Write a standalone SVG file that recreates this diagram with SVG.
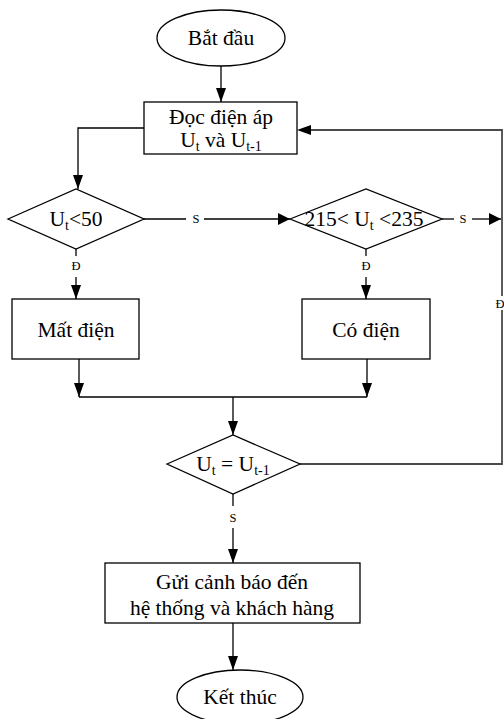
<svg xmlns="http://www.w3.org/2000/svg" width="504" height="719" viewBox="0 0 504 719">
<style>
.shape{fill:#fff;stroke:#000;stroke-width:1.3}
.ln{fill:none;stroke:#000;stroke-width:1.3}
.lg{fill:none;stroke:#4a4a4a;stroke-width:1.8}
.t{font-family:"Liberation Serif","Times New Roman",serif;font-size:21.5px;fill:#000;text-anchor:middle}
.s{font-family:"Liberation Serif","Times New Roman",serif;font-size:12.5px;fill:#000;text-anchor:middle}
.sub{font-size:14px}
</style>
<defs>
<marker id="ah" markerUnits="userSpaceOnUse" markerWidth="12" markerHeight="16" viewBox="0 0 12 16" refX="12" refY="8" orient="auto">
<path d="M0,2 L12,8 L0,14 Z" fill="#000"/>
</marker>
<marker id="av" markerUnits="userSpaceOnUse" markerWidth="14" markerHeight="12" viewBox="0 0 14 12" refX="14" refY="6" orient="auto">
<path d="M0,1 L14,6 L0,11 Z" fill="#000"/>
</marker>
</defs>
<g id="connectors">
<line class="ln" x1="221" y1="66" x2="221" y2="102" marker-end="url(#av)"/>
<polyline class="ln" points="144,128 78,128 78,189" marker-end="url(#av)"/>
<line class="ln" x1="144" y1="219" x2="186" y2="219"/>
<line class="ln" x1="204" y1="219" x2="290" y2="219" marker-end="url(#ah)"/>
<text class="s" x="196" y="223">S</text>
<line class="ln" x1="442" y1="219" x2="454" y2="219"/>
<line class="ln" x1="472" y1="219" x2="501" y2="219" marker-end="url(#ah)"/>
<text class="s" x="463" y="223">S</text>
<line class="ln" x1="76" y1="249" x2="76" y2="256"/>
<text class="s" x="76" y="270">Đ</text>
<line class="ln" x1="76" y1="277" x2="76" y2="299" marker-end="url(#av)"/>
<line class="ln" x1="366" y1="249" x2="366" y2="256"/>
<text class="s" x="366" y="270">Đ</text>
<line class="ln" x1="366" y1="277" x2="366" y2="299" marker-end="url(#av)"/>
<line class="ln" x1="79" y1="359" x2="79" y2="397" marker-end="url(#av)"/>
<line class="ln" x1="367" y1="359" x2="367" y2="397" marker-end="url(#av)"/>
<line class="ln" x1="79" y1="397" x2="367" y2="397"/>
<line class="ln" x1="233" y1="397" x2="233" y2="435" marker-end="url(#av)"/>
<polyline class="lg" points="300,464 502,464 502,310"/>
<polyline class="lg" points="502,296 502,130 310,130"/>
<text class="s" x="500" y="308">Đ</text>
<path d="M297,130 L311,125 L311,135 Z" fill="#000"/>
<line class="ln" x1="233" y1="494" x2="233" y2="506"/>
<text class="s" x="233" y="522">S</text>
<line class="ln" x1="233" y1="528" x2="233" y2="563" marker-end="url(#av)"/>
<line class="ln" x1="233" y1="623" x2="233" y2="670" marker-end="url(#av)"/>
</g>
<g id="start">
<ellipse class="shape" cx="221" cy="38" rx="64" ry="28"/>
<text class="t" x="221" y="45">Bắt đầu</text>
</g>
<g id="read">
<rect class="shape" x="144" y="102" width="153" height="52"/>
<text class="t" x="221" y="124">Đọc điện áp</text>
<text class="t" x="221" y="147">U<tspan class="sub" dy="4">t</tspan><tspan dy="-4"> và U</tspan><tspan class="sub" dy="4">t-1</tspan></text>
</g>
<g id="cond1">
<polygon class="shape" points="8,219 76,189 144,219 76,249"/>
<text class="t" x="76" y="226">U<tspan class="sub" dy="4">t</tspan><tspan dy="-4">&lt;50</tspan></text>
</g>
<g id="cond2">
<polygon class="shape" points="290,219 366,189 442,219 366,249"/>
<text class="t" x="364" y="226">215&lt; U<tspan class="sub" dy="4">t</tspan><tspan dy="-4"> &lt;235</tspan></text>
</g>
<g id="matdien">
<rect class="shape" x="12" y="299" width="127" height="60"/>
<text class="t" x="76" y="337">Mất điện</text>
</g>
<g id="codien">
<rect class="shape" x="302" y="299" width="128" height="60"/>
<text class="t" x="366" y="337">Có điện</text>
</g>
<g id="cond3">
<polygon class="shape" points="167,464 233,435 300,464 233,494"/>
<text class="t" x="233" y="471">U<tspan class="sub" dy="4">t</tspan><tspan dy="-4"> = U</tspan><tspan class="sub" dy="4">t-1</tspan></text>
</g>
<g id="alert">
<rect class="shape" x="105" y="563" width="255" height="60"/>
<text class="t" x="232" y="589">Gửi cảnh báo đến</text>
<text class="t" x="232" y="615">hệ thống và khách hàng</text>
</g>
<g id="end">
<ellipse class="shape" cx="240" cy="697" rx="63" ry="27"/>
<text class="t" x="240" y="704">Kết thúc</text>
</g>
</svg>
